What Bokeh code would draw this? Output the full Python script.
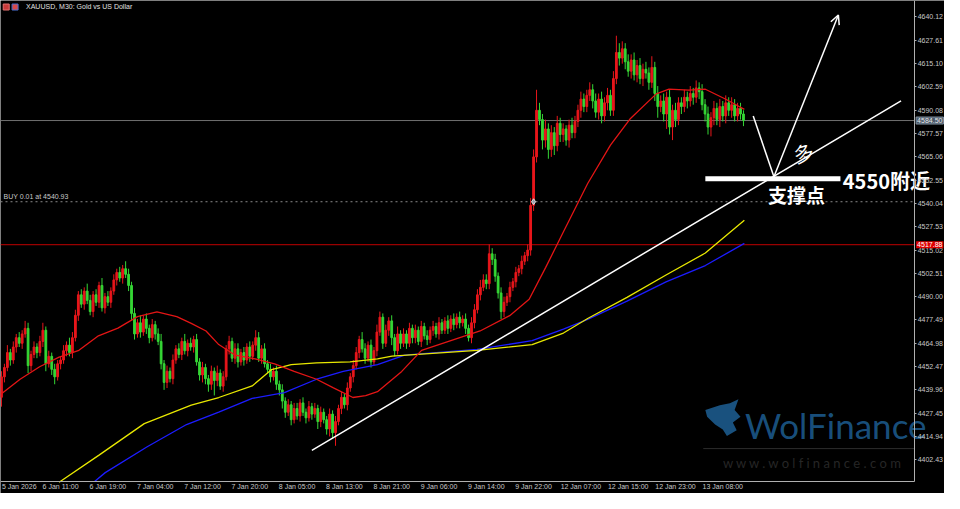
from bokeh.plotting import figure
from bokeh.models import (FixedTicker, PrintfTickFormatter, Label, Arrow, OpenHead,
                          ColumnDataSource, LinearAxis)
from bokeh.core.properties import value
from bokeh.embed import file_html
from bokeh.resources import INLINE

# ---------------- data (XAUUSD M30) ----------------
first_open = 4436
closes = [4447, 4452, 4460, 4456,
          4463, 4468, 4465, 4470,
          4473, 4453, 4459,
          4463, 4460, 4466, 4472,
          4454,
          4458, 4451, 4447, 4454,
          4456, 4461, 4464, 4460, 4468,
          4480, 4491,
          4486, 4493, 4488, 4482, 4491, 4487,
          4496, 4484, 4490,
          4487, 4493, 4499, 4503, 4500, 4505, 4502,
          4496, 4481, 4470,
          4476, 4471, 4478, 4473, 4468, 4475, 4470,
          4466, 4454, 4444, 4450, 4446,
          4456, 4462, 4459, 4466, 4461, 4465,
          4463, 4467,
          4455, 4448, 4452, 4446, 4443,
          4450, 4445, 4449, 4442, 4447, 4462,
          4466, 4457, 4462, 4455, 4460, 4456, 4463, 4458,
          4464, 4468, 4457, 4462, 4454,
          4451, 4447, 4450, 4443, 4440,
          4434, 4428, 4432, 4424, 4430,
          4426, 4433, 4428, 4425, 4431, 4427, 4430, 4423, 4428,
          4424, 4419, 4427, 4417, 4423,
          4430, 4436, 4432, 4441, 4447,
          4453, 4460, 4467, 4462,
          4457, 4464, 4455, 4461,
          4471, 4479, 4465, 4472,
          4477, 4468, 4461, 4470, 4465,
          4470, 4465, 4473, 4468, 4472, 4466, 4474, 4469, 4467, 4472,
          4474, 4470, 4476, 4472, 4477, 4473, 4478, 4475, 4479, 4476, 4478, 4473, 4468,
          4476, 4483, 4491, 4495, 4499, 4497,
          4513, 4510,
          4501, 4492, 4482, 4487,
          4490, 4495, 4498, 4503, 4505, 4509, 4512,
          4515,
          4539, 4565, 4590,
          4585, 4574, 4580, 4569, 4578, 4571, 4583,
          4577, 4580, 4574, 4582, 4578,
          4584, 4590, 4596, 4592, 4598, 4601,
          4595, 4589, 4596, 4587, 4594, 4598, 4590,
          4607, 4621,
          4618, 4623,
          4616, 4611, 4617, 4609, 4614, 4607, 4612,
          4610, 4605, 4613,
          4599, 4592, 4595,
          4588, 4597, 4581, 4590, 4585, 4594,
          4592, 4597, 4595, 4599, 4597, 4602, 4600,
          4593, 4588, 4581, 4586, 4591,
          4585, 4592, 4587, 4594, 4590, 4593, 4587, 4591, 4588, 4584.5]

upper_wick = [3,2,4,2,3,2,3,2,4,3, 2,3,2,3,4,2,3,2,3,2, 2,3,2,4,3,3,2,3,2,4,
              3,2,3,2,4,2,3,2,3,2, 3,2,4,3,2,3,2,4,2,3, 2,3,2,3,4,2,3,2,3,2,
              3,2,4,2,3,2,3,2,3,2, 2,3,2,4,2,3,2,3,2,3, 3,2,3,2,3,2,4,3,2,3,
              2,3,2,3,2,3,2,3,2,3, 3,2,3,2,3,2,3,2,3,2, 2,3,2,3,2,3,2,3,2,3,
              3,2,4,3,2,3,2,4,3,2, 3,2,3,2,4,2,3,2,3,2, 3,2,3,2,3,2,3,2,3,2,
              2,3,2,3,2,3,2,3,2,3, 3,3,4,3,3,5,3,3,2,3, 3,2,3,2,3,2,3,2,3,4,
              4,11,4,3,5,3,4,3,4,3, 3,2,3,4,3,3,4,3,3,4, 3,4,3,4,3,4,3,4,9,5,
              4,3,4,3,4,3,4,3,4,3, 6,3,4,3,4,3,4,3,4,3, 3,4,3,4,3,4,3,4,3,4,
              3,4,3,4,3,4,3,4,3,3, 3,2]
lower_wick = [5,3,2,3,2,3,2,3,2,4, 3,2,3,2,3,4,2,3,4,2, 3,2,3,2,3,2,3,2,3,2,
              2,3,2,3,2,3,2,3,2,3, 2,3,2,3,4,3,2,3,2,3, 3,2,3,2,3,4,3,2,3,2,
              2,3,2,3,2,3,2,3,4,3, 4,3,8,3,2,3,2,3,2,3, 3,2,3,2,3,2,3,2,3,2,
              2,3,2,3,3,4,3,2,3,2, 2,3,2,3,2,3,2,4,3,2, 3,4,3,7,2,3,2,3,2,3,
              2,3,2,3,2,3,2,3,2,3, 2,3,4,3,2,3,2,3,2,3, 3,2,3,2,3,2,3,2,3,2,
              2,3,2,3,2,3,2,3,2,3, 3,2,3,2,3,3,3,3,3,4, 3,2,3,2,3,2,3,2,3,3,
              3,3,3,5,4,5,4,5,3,4, 4,3,4,3,3,3,4,3,3,3, 4,3,4,4,3,4,3,3,3,4,
              3,4,3,4,3,4,3,4,3,4, 3,4,6,3,4,8,4,7,4,3, 4,3,4,3,4,3,4,3,4,4,
              5,4,3,4,3,4,3,4,3,3, 3,3]

# moving averages (bar index, price)
ma_red_x = [0, 6.3, 12.9, 19.5, 26.2, 32.8, 39.4, 46.0, 52.6, 59.3, 64.2, 69.2, 73.5, 79.1, 85.8, 92.4,
            99.0, 106.6, 112.3, 118.9, 123.2, 127.2, 135.4, 142.1, 152.0, 161.9, 171.9, 178.5, 184.1,
            190.1, 198.3, 206.0, 212.6, 221.5, 225.8, 232.5, 238.1, 244.7, 251.3]
ma_red_y = [4437.9, 4445.7, 4452.4, 4457.6, 4461.2, 4469.0, 4473.1, 4479.3, 4481.9, 4479.3, 4475.7,
            4471.6, 4464.3, 4458.6, 4456.6, 4454.0, 4449.9, 4445.7, 4441.1, 4435.9, 4436.9, 4439.0,
            4449.9, 4461.2, 4466.4, 4471.6, 4479.8, 4488.6, 4505.7, 4524.8, 4550.7, 4571.3, 4585.3,
            4598.8, 4601.3, 4600.8, 4601.3, 4596.2, 4590.5]
ma_yel_x = [19.5, 33.0, 48.3, 64.2, 73.5, 84.8, 91.4, 98.0, 106.6, 117.9, 127.2, 132.1, 160.9, 179.5,
            190.1, 198.3, 211.6, 224.8, 238.1, 251.3]
ma_yel_y = [4390.4, 4405.0, 4421.9, 4431.8, 4435.9, 4442.1, 4450.9, 4453.5, 4454.5, 4455.0, 4456.6,
            4458.1, 4461.2, 4464.3, 4470.5, 4478.3, 4489.6, 4501.6, 4513.4, 4531.0]
ma_blu_x = [31.5, 35.1, 49.3, 62.6, 73.5, 84.8, 95.7, 106.6, 115.6, 127.2, 136.4, 160.9, 179.5, 190.1,
            198.3, 211.6, 224.8, 238.1, 251.3]
ma_blu_y = [4390.9, 4395.6, 4409.5, 4421.4, 4428.1, 4435.4, 4438.5, 4445.7, 4449.9, 4453.5, 4458.6,
            4461.7, 4466.4, 4472.6, 4477.8, 4487.6, 4497.9, 4506.7, 4518.6]

price_ticks = [4402.43, 4414.94, 4427.45, 4439.96, 4452.47, 4464.98, 4477.49, 4490.00, 4502.51,
               4515.02, 4527.53, 4540.04, 4552.55, 4565.06, 4577.57, 4590.08, 4602.59, 4615.10,
               4627.61, 4640.12]
time_tick_bars = [-1, 15, 31, 47, 63, 79, 95, 111, 127, 143, 159, 175, 191, 207, 223, 239]
time_tick_labels = ["5 Jan 2026", "6 Jan 11:00", "6 Jan 19:00", "7 Jan 04:00", "7 Jan 12:00",
                    "7 Jan 20:00", "8 Jan 05:00", "8 Jan 13:00", "8 Jan 21:00", "9 Jan 06:00",
                    "9 Jan 14:00", "9 Jan 22:00", "12 Jan 07:00", "12 Jan 15:00", "12 Jan 23:00",
                    "13 Jan 08:00"]

current_price = 4584.50
red_level = 4517.88
buy_price = 4540.93

# annotation geometry (bar index, price)
trend_x = [105.0, 304.3]
trend_y = [4407.5, 4595.1]
support_x = [238.1, 283.8]
support_y = [4553.3, 4553.3]
path_x = [254.3, 261.3]
path_y = [4586.9, 4554.3]
arrow_end = (283.1, 4641.1)
logo_x = [238.1, 243.0, 246.4, 249.3, 248.0, 250.0, 247.4, 248.7, 245.4, 244.0, 241.4, 238.7]
logo_y = [4429.2, 4431.8, 4432.8, 4434.9, 4429.2, 4425.6, 4422.5, 4418.3, 4415.2, 4418.8,
          4421.4, 4425.6]

# chart window (bar index / price) and axis positions
x_lo, x_axis_pos, x_hi = -0.33, 308.9, 319.0
y_lo, y_axis_pos, y_hi = 4384.4, 4390.9, 4648.9

# ---------------- build ----------------
n = len(closes)
opens = [first_open] + closes[:-1]
highs = [max(o, c) + u for o, c, u in zip(opens, closes, upper_wick)]
lows = [max(min(o, c) - d, y_axis_pos) for o, c, d in zip(opens, closes, lower_wick)]
colors = ["#e8161b" if c >= o else "#35d635" for o, c in zip(opens, closes)]
src = ColumnDataSource(dict(x=list(range(n)), h=highs, l=lows,
                            top=[max(a, b) for a, b in zip(opens, closes)],
                            bot=[min(a, b) for a, b in zip(opens, closes)], col=colors))

p = figure(width=944, height=493, x_range=(x_lo, x_hi), y_range=(y_lo, y_hi),
           x_axis_location=None, y_axis_location=None,
           output_backend="svg", toolbar_location=None,
           background_fill_color="black", border_fill_color="black",
           min_border_left=0, min_border_top=0, min_border_bottom=0, min_border_right=0)
p.outline_line_color = None
p.grid.visible = False

axis_font = "Liberation Sans"

# axes (drawn at the chart's own edges)
yax = LinearAxis(fixed_location=x_axis_pos, bounds=(y_axis_pos, y_hi))
yax.ticker = FixedTicker(ticks=price_ticks)
yax.formatter = PrintfTickFormatter(format="%.2f")
yax.major_label_text_font_size = "7px"
yax.major_label_text_color = "#c8c8c8"
yax.major_label_text_font = axis_font
yax.axis_line_color = "#b0b0b0"
yax.major_tick_line_color = "#b0b0b0"
yax.major_tick_out = 2
yax.major_tick_in = 0
yax.minor_tick_line_color = None
yax.major_label_standoff = 1
p.add_layout(yax, "right")

centers = [b + 5 for b in time_tick_bars]
centers[0] = 6
xax = LinearAxis(fixed_location=y_axis_pos, bounds=(x_lo, x_axis_pos))
xax.ticker = FixedTicker(ticks=centers)
xax.major_label_overrides = {c: t for c, t in zip(centers, time_tick_labels)}
xax.major_label_text_font_size = "7px"
xax.major_label_text_color = "#c8c8c8"
xax.major_label_text_font = axis_font
xax.axis_line_color = "#b0b0b0"
xax.major_tick_line_color = None
xax.major_tick_out = 0
xax.major_tick_in = 0
xax.minor_tick_line_color = None
xax.minor_tick_out = 0
xax.major_label_standoff = 2
p.add_layout(xax, "below")

# horizontal levels (stop at the price axis)
p.line([x_lo, x_axis_pos], [current_price, current_price], line_color="#707070", line_width=1)
p.line([x_lo, x_axis_pos], [red_level, red_level], line_color="#c00000", line_width=1)
p.line([x_lo, x_axis_pos], [buy_price, buy_price], line_color="#8a8a8a", line_width=1,
       line_dash="2 3")

# candles
p.segment(x0="x", y0="h", x1="x", y1="l", source=src, line_color="col", line_width=1)
p.vbar(x="x", width=0.6, top="top", bottom="bot", source=src, fill_color="col", line_color="col")

# moving averages
p.line(ma_blu_x, ma_blu_y, line_color="#1c1cff", line_width=1.3)
p.line(ma_yel_x, ma_yel_y, line_color="#e8e800", line_width=1.3)
p.line(ma_red_x, ma_red_y, line_color="#e31515", line_width=1.3)

# buy marker
p.scatter([180], [buy_price], marker="diamond", size=6, fill_color="#9aa4b0", line_color="#dddddd")

# drawings
p.line(trend_x, trend_y, line_color="white", line_width=1.5)
p.line(support_x, support_y, line_color="white", line_width=5)
p.line(path_x, path_y, line_color="white", line_width=1.5)
p.add_layout(Arrow(end=OpenHead(size=9, line_color="white", line_width=1.5),
                   x_start=path_x[-1], y_start=path_y[-1], x_end=arrow_end[0], y_end=arrow_end[1],
                   line_color="white", line_width=1.5))

cjk = value("Noto Sans CJK SC")
p.text([271.2], [4567.2], text=["多"], text_font=cjk, text_font_size="20px", text_color="white",
       angle=0.3, text_align="center", text_baseline="middle")
p.text([268.9], [4545.0], text=["支撑点"], text_font=cjk, text_font_size="19px", text_color="white",
       text_font_style="bold", text_align="center", text_baseline="middle")
p.text([284.6], [4552.4], text=["4550附近"], text_font=cjk, text_font_size="20px", text_color="white",
       text_font_style="bold", text_align="left", text_baseline="middle")

# title, symbol icons and order label
p.scatter([1.6, 4.6], [4645.4, 4645.4], marker="square", size=6,
          fill_color=["#c83a3a", "#d84848"], line_color=["#e07070", "#4a6fd0"])
p.text([8.3], [4645.6], text=["XAUUSD, M30:  Gold vs US Dollar"], text_font=value(axis_font),
       text_font_size="7px", text_color="#e0e0e0", text_align="left", text_baseline="middle")
p.text([0.7], [4543.6], text=["BUY 0.01 at 4540.93"], text_font=value(axis_font),
       text_font_size="7px", text_color="#c8c8c8", text_align="left", text_baseline="middle")

# watermark
p.patch(logo_x, logo_y, fill_color="#1c5a8c", fill_alpha=0.9, line_color=None)
p.text([251.5], [4421.4], text=["WolFinance"], text_font=value("Lato"), text_font_size="35px",
       text_color="#1c5a8c", text_alpha=0.9, text_align="left", text_baseline="middle")
p.line([237.4, x_axis_pos], [4408.5, 4408.5], line_color="#2c2c2c", line_width=1)
p.text([274.5], [4400.7], text=["w w w . w o l f i n a n c e . c o m"], text_font=value("Lato"),
       text_font_size="13px", text_color="#262626", text_align="center", text_baseline="middle")

# price boxes on the price axis
p.add_layout(Label(x=x_axis_pos + 0.5, y=current_price, text="4584.50", text_font_size="7px",
                   text_color="#e8e8e8", text_baseline="middle", background_fill_color="#4a5868",
                   border_line_color="#8090a0", text_font=axis_font, padding=1))
p.add_layout(Label(x=x_axis_pos + 0.5, y=red_level, text="4517.88", text_font_size="7px",
                   text_color="white", text_baseline="middle", background_fill_color="#e00000",
                   text_font=axis_font, padding=1))

open("out.html", "w").write(file_html(p, INLINE))
